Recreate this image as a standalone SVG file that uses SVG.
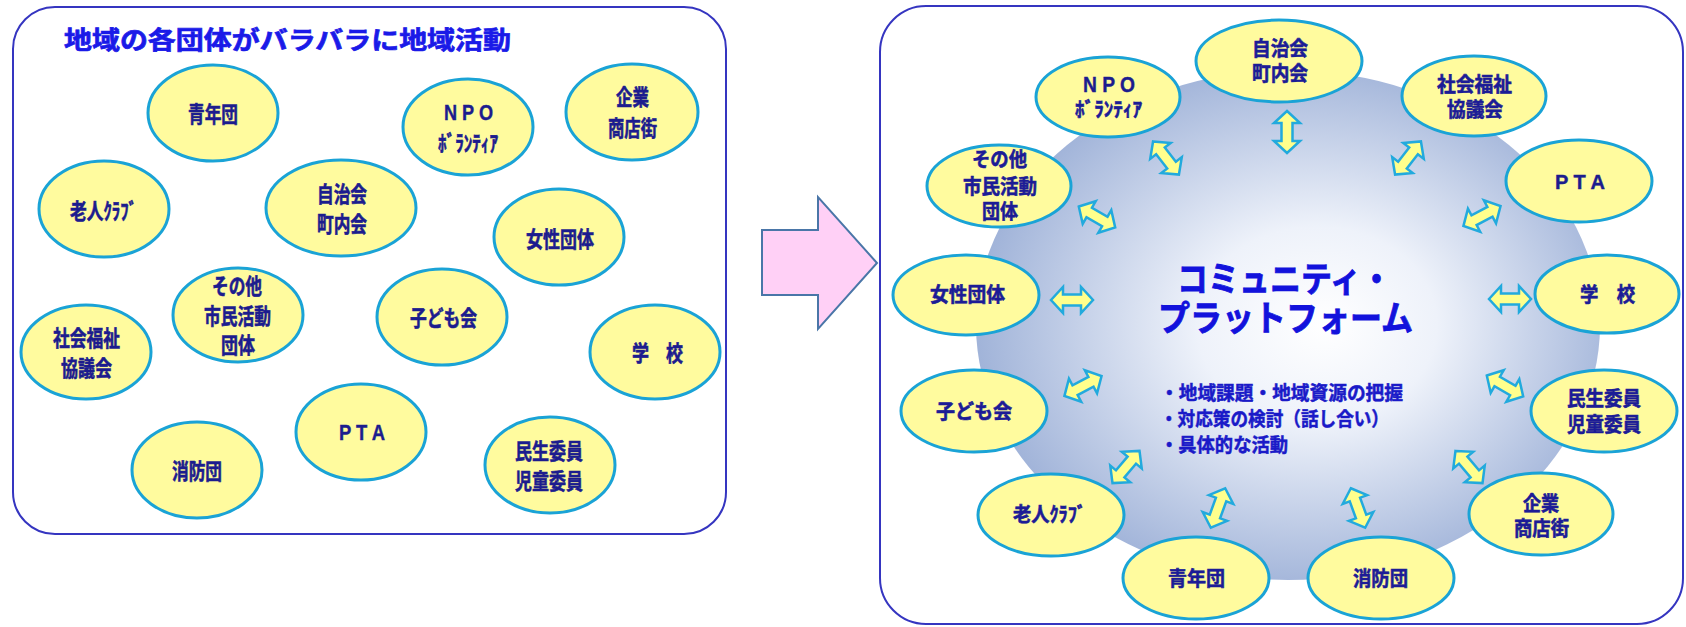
<svg xmlns="http://www.w3.org/2000/svg" xmlns:xlink="http://www.w3.org/1999/xlink" width="1686" height="627" viewBox="0 0 1686 627">
<defs>
<style>
.box{fill:#fff;stroke:#3535C0;stroke-width:2}
.el{fill:#FFFB9E;stroke:#1AA3D6;stroke-width:3}
.lt{font-family:"Noto Sans CJK JP",sans-serif;font-weight:bold;font-size:22px;fill:#1C1C8E;stroke:#1C1C8E;stroke-width:0.6;text-anchor:middle}
.rt{font-family:"Noto Sans CJK JP",sans-serif;font-weight:bold;font-size:20px;fill:#1C1C96;stroke:#1C1C96;stroke-width:0.6;text-anchor:middle}
.lat{font-family:"Liberation Sans","Noto Sans CJK JP",sans-serif;font-weight:bold;fill:#1C1C8E;stroke:#1C1C8E;stroke-width:0.4;text-anchor:middle}
.arr{fill:#FFFF8C;stroke:#22AADD;stroke-width:2.5;stroke-linejoin:miter}
.big{font-family:"Noto Sans CJK JP",sans-serif;font-weight:bold;font-size:35px;fill:#1212DC;stroke:#1212DC;stroke-width:0.8}
.bul{font-family:"Noto Sans CJK JP",sans-serif;font-weight:bold;font-size:19.5px;fill:#1A1AC8;stroke:#1A1AC8;stroke-width:0.5}
</style>
<radialGradient id="glow" cx="0.52" cy="0.5" r="0.55" fx="0.56" fy="0.5">
<stop offset="0" stop-color="#FFFFFF"/>
<stop offset="0.35" stop-color="#EEF2FA"/>
<stop offset="1" stop-color="#9AAED6"/>
</radialGradient>
<path id="dbl" d="M-21,0 L-9,-13 L-9,-5.5 L9,-5.5 L9,-13 L21,0 L9,13 L9,5.5 L-9,5.5 L-9,13 Z"/>
</defs>

<!-- Left panel -->
<g id="left-panel">
<rect class="box" x="13" y="7" width="713" height="527" rx="42" ry="42"/>
<text x="64" y="49" font-family="'Noto Sans CJK JP',sans-serif" font-weight="bold" font-size="25" fill="#1A1AE8" stroke="#1A1AE8" stroke-width="0.7" textLength="447" lengthAdjust="spacingAndGlyphs">地域の各団体がバラバラに地域活動</text>
</g>

<g id="L-seinendan"><ellipse class="el" cx="213" cy="113" rx="65" ry="48"/><text class="lt" x="213" y="121.5" textLength="50" lengthAdjust="spacingAndGlyphs">青年団</text></g>
<g id="L-npo"><ellipse class="el" cx="468" cy="127" rx="65" ry="48"/><text class="lat" font-size="22" x="468.5" y="120" textLength="49" lengthAdjust="spacingAndGlyphs">N P O</text><text class="lt" x="468" y="151" textLength="60" lengthAdjust="spacingAndGlyphs">ﾎﾞﾗﾝﾃｨｱ</text></g>
<g id="L-kigyo"><ellipse class="el" cx="632" cy="112" rx="66" ry="48"/><text class="lt" x="632.5" y="105" textLength="33" lengthAdjust="spacingAndGlyphs">企業</text><text class="lt" x="632.5" y="136" textLength="49" lengthAdjust="spacingAndGlyphs">商店街</text></g>
<g id="L-rojin"><ellipse class="el" cx="104" cy="209" rx="65" ry="48"/><text class="lt" x="103.5" y="219" textLength="67" lengthAdjust="spacingAndGlyphs">老人ｸﾗﾌﾞ</text></g>
<g id="L-jichikai"><ellipse class="el" cx="341" cy="208" rx="75" ry="48"/><text class="lt" x="342" y="202" textLength="50" lengthAdjust="spacingAndGlyphs">自治会</text><text class="lt" x="342" y="232" textLength="50" lengthAdjust="spacingAndGlyphs">町内会</text></g>
<g id="L-josei"><ellipse class="el" cx="559" cy="237" rx="65" ry="48"/><text class="lt" x="560" y="247" textLength="68" lengthAdjust="spacingAndGlyphs">女性団体</text></g>
<g id="L-sonota"><ellipse class="el" cx="238" cy="315" rx="65" ry="47"/><text class="lt" x="237" y="294" textLength="50" lengthAdjust="spacingAndGlyphs">その他</text><text class="lt" x="237.5" y="324" textLength="67" lengthAdjust="spacingAndGlyphs">市民活動</text><text class="lt" x="238" y="353" textLength="34" lengthAdjust="spacingAndGlyphs">団体</text></g>
<g id="L-kodomo"><ellipse class="el" cx="442" cy="317" rx="65" ry="48"/><text class="lt" x="443.5" y="326" textLength="67" lengthAdjust="spacingAndGlyphs">子ども会</text></g>
<g id="L-shakyo"><ellipse class="el" cx="86" cy="352" rx="65" ry="47"/><text class="lt" x="86.5" y="346" textLength="67" lengthAdjust="spacingAndGlyphs">社会福祉</text><text class="lt" x="86.5" y="376" textLength="51" lengthAdjust="spacingAndGlyphs">協議会</text></g>
<g id="L-gakko"><ellipse class="el" cx="655" cy="352" rx="65" ry="47"/><text class="lt" x="657.5" y="361" textLength="51" lengthAdjust="spacingAndGlyphs">学　校</text></g>
<g id="L-pta"><ellipse class="el" cx="361" cy="432" rx="65" ry="48"/><text class="lat" font-size="22" x="362" y="440" textLength="46" lengthAdjust="spacingAndGlyphs">P T A</text></g>
<g id="L-shobo"><ellipse class="el" cx="197" cy="470" rx="65" ry="48"/><text class="lt" x="197" y="479" textLength="50" lengthAdjust="spacingAndGlyphs">消防団</text></g>
<g id="L-minsei"><ellipse class="el" cx="550" cy="465" rx="65" ry="48"/><text class="lt" x="549" y="459" textLength="68" lengthAdjust="spacingAndGlyphs">民生委員</text><text class="lt" x="549" y="489" textLength="68" lengthAdjust="spacingAndGlyphs">児童委員</text></g>

<!-- Transition arrow -->
<g id="transition-arrow">
<polygon points="762,230 818,230 818,197 877,263 818,329 818,295 762,295" fill="#FFD0F6" stroke="#4A76A8" stroke-width="2"/>
</g>

<!-- Right panel -->
<g id="right-panel">
<rect class="box" x="880" y="6" width="803" height="618" rx="46" ry="46"/>
</g>

<g id="platform">
<ellipse cx="1288" cy="325" rx="312" ry="255" fill="url(#glow)"/>
<text class="big" x="1177" y="292" textLength="215" lengthAdjust="spacingAndGlyphs">コミュニティ・</text>
<text class="big" x="1158" y="331" textLength="255" lengthAdjust="spacingAndGlyphs">プラットフォーム</text>
<text class="bul" x="1160" y="400" textLength="243" lengthAdjust="spacingAndGlyphs">・地域課題・地域資源の把握</text>
<text class="bul" x="1160" y="426" textLength="229" lengthAdjust="spacingAndGlyphs">・対応策の検討（話し合い）</text>
<text class="bul" x="1160" y="452" textLength="128" lengthAdjust="spacingAndGlyphs">・具体的な活動</text>
</g>

<g id="connectors">
<use xlink:href="#dbl" class="arr" transform="translate(1287,132) rotate(90)"/>
<use xlink:href="#dbl" class="arr" transform="translate(1166,158) rotate(52)"/>
<use xlink:href="#dbl" class="arr" transform="translate(1408,158) rotate(-52)"/>
<use xlink:href="#dbl" class="arr" transform="translate(1097,217) rotate(30)"/>
<use xlink:href="#dbl" class="arr" transform="translate(1482,216) rotate(-28)"/>
<use xlink:href="#dbl" class="arr" transform="translate(1072,300)"/>
<use xlink:href="#dbl" class="arr" transform="translate(1510,299)"/>
<use xlink:href="#dbl" class="arr" transform="translate(1083,386) rotate(-28)"/>
<use xlink:href="#dbl" class="arr" transform="translate(1505,386) rotate(30)"/>
<use xlink:href="#dbl" class="arr" transform="translate(1126,467) rotate(-50)"/>
<use xlink:href="#dbl" class="arr" transform="translate(1469,467) rotate(50)"/>
<use xlink:href="#dbl" class="arr" transform="translate(1218,508) rotate(-70)"/>
<use xlink:href="#dbl" class="arr" transform="translate(1358,508) rotate(70)"/>
</g>

<g id="R-jichikai"><ellipse class="el" cx="1279" cy="61" rx="83" ry="41"/><text class="rt" x="1280" y="56" textLength="56" lengthAdjust="spacingAndGlyphs">自治会</text><text class="rt" x="1280" y="81" textLength="56" lengthAdjust="spacingAndGlyphs">町内会</text></g>
<g id="R-npo"><ellipse class="el" cx="1108" cy="97" rx="72" ry="40"/><text class="lat" font-size="22" x="1109" y="92" textLength="52" lengthAdjust="spacingAndGlyphs">N P O</text><text class="rt" x="1108.5" y="117" textLength="67" lengthAdjust="spacingAndGlyphs">ﾎﾞﾗﾝﾃｨｱ</text></g>
<g id="R-shakyo"><ellipse class="el" cx="1474" cy="96" rx="72" ry="40"/><text class="rt" x="1474.5" y="92" textLength="75" lengthAdjust="spacingAndGlyphs">社会福祉</text><text class="rt" x="1475" y="117" textLength="56" lengthAdjust="spacingAndGlyphs">協議会</text></g>
<g id="R-sonota"><ellipse class="el" cx="999" cy="186" rx="72" ry="41"/><text class="rt" x="999.5" y="167" textLength="55" lengthAdjust="spacingAndGlyphs">その他</text><text class="rt" x="1000" y="194" textLength="74" lengthAdjust="spacingAndGlyphs">市民活動</text><text class="rt" x="1000" y="219" textLength="36" lengthAdjust="spacingAndGlyphs">団体</text></g>
<g id="R-pta"><ellipse class="el" cx="1579" cy="181" rx="73" ry="41"/><text class="lat" font-size="20" x="1580" y="189" textLength="50" lengthAdjust="spacingAndGlyphs">P T A</text></g>
<g id="R-josei"><ellipse class="el" cx="966" cy="295" rx="73" ry="40"/><text class="rt" x="967.5" y="302" textLength="75" lengthAdjust="spacingAndGlyphs">女性団体</text></g>
<g id="R-gakko"><ellipse class="el" cx="1607" cy="294" rx="72" ry="39"/><text class="rt" x="1607.5" y="302" textLength="55" lengthAdjust="spacingAndGlyphs">学　校</text></g>
<g id="R-kodomo"><ellipse class="el" cx="974" cy="411" rx="73" ry="41"/><text class="rt" x="974" y="419" textLength="76" lengthAdjust="spacingAndGlyphs">子ども会</text></g>
<g id="R-minsei"><ellipse class="el" cx="1604" cy="411" rx="73" ry="41"/><text class="rt" x="1604" y="406" textLength="74" lengthAdjust="spacingAndGlyphs">民生委員</text><text class="rt" x="1604" y="432" textLength="74" lengthAdjust="spacingAndGlyphs">児童委員</text></g>
<g id="R-rojin"><ellipse class="el" cx="1051" cy="515" rx="73" ry="41"/><text class="rt" x="1049.5" y="522" textLength="73" lengthAdjust="spacingAndGlyphs">老人ｸﾗﾌﾞ</text></g>
<g id="R-kigyo"><ellipse class="el" cx="1541" cy="514" rx="72" ry="41"/><text class="rt" x="1541" y="511" textLength="36" lengthAdjust="spacingAndGlyphs">企業</text><text class="rt" x="1541.5" y="536" textLength="55" lengthAdjust="spacingAndGlyphs">商店街</text></g>
<g id="R-seinendan"><ellipse class="el" cx="1196" cy="578" rx="73" ry="41"/><text class="rt" x="1196.5" y="586" textLength="57" lengthAdjust="spacingAndGlyphs">青年団</text></g>
<g id="R-shobo"><ellipse class="el" cx="1381" cy="578" rx="73" ry="41"/><text class="rt" x="1380.5" y="586" textLength="55" lengthAdjust="spacingAndGlyphs">消防団</text></g>
</svg>
